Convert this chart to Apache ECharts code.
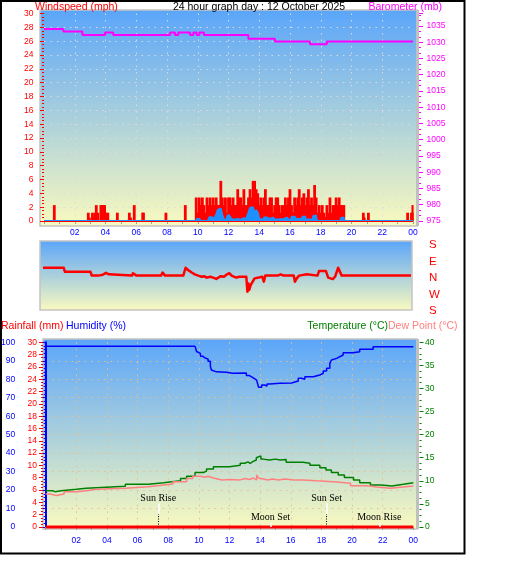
<!DOCTYPE html>
<html><head><meta charset="utf-8">
<script src="https://cdn.jsdelivr.net/npm/echarts@6/dist/echarts.min.js"></script>
<style>html,body{margin:0;padding:0;background:#fff}#c{width:529px;height:563px}</style>
</head><body><div id="c"></div>
<script>
// ---------- data (hours 0..24) ----------
const hourLabels = ['', '02', '04', '06', '08', '10', '12', '14', '16', '18', '20', '22', '00'];
const dirTickLabels = ['S', 'W', 'N', 'E', 'S']; // -180, -90, 0, 90, 180

// wind gust (mph) [hour, value]
const windGust = [
  [0.67,2.3],[2.88,1.2],[2.95,0.5],[3.15,1.2],[3.22,0.6],[3.32,1.2],[3.4,2.3],[3.5,1.2],[3.7,2.3],[3.78,2.3],[3.86,2.3],[3.94,2.3],[4.02,1.2],[4.15,1.2],
  [4.77,1.2],[5.55,1.2],[5.64,0.5],[5.87,2.3],[6.42,1.2],[6.47,1.2],[7.93,1.2],[9.19,2.3],
  [9.9,3.4],[10.0,1.2],[10.1,3.4],[10.2,2.3],[10.3,3.4],[10.4,2.3],[10.5,1.2],[10.6,3.4],[10.7,2.3],[10.8,3.4],[10.9,2.3],
  [11.0,3.4],[11.1,2.3],[11.2,3.4],[11.3,2.3],[11.4,2.3],[11.5,5.8],[11.6,3.4],[11.7,2.3],[11.8,3.4],[11.9,1.2],
  [12.0,3.4],[12.1,3.4],[12.2,2.3],[12.3,3.4],[12.4,2.3],[12.5,2.3],[12.6,4.6],[12.7,3.4],[12.8,3.4],[12.9,2.3],
  [13.0,4.6],[13.1,2.3],[13.2,2.3],[13.3,3.4],[13.4,4.6],[13.5,3.4],[13.6,5.8],[13.7,5.8],[13.8,4.6],[13.9,4.0],
  [14.0,2.3],[14.1,3.4],[14.2,2.3],[14.3,3.4],[14.4,4.6],[14.5,2.3],[14.6,2.3],[14.7,3.4],[14.8,3.4],[14.9,1.2],
  [15.0,2.3],[15.1,3.4],[15.2,3.4],[15.3,2.3],[15.4,1.2],[15.5,2.3],[15.6,2.3],[15.7,3.4],[15.8,2.3],[15.9,3.4],
  [16.0,4.6],[16.1,2.3],[16.2,1.2],[16.3,3.4],[16.4,2.3],[16.5,3.4],[16.6,4.6],[16.7,2.3],[16.8,3.4],[16.9,4.0],
  [17.0,2.3],[17.1,3.4],[17.2,4.6],[17.3,2.3],[17.4,3.4],[17.5,2.3],[17.6,5.2],[17.7,3.4],[17.8,1.2],[17.9,2.3],
  [18.0,1.2],[18.1,2.3],[18.2,1.2],[18.3,0.6],[18.4,2.3],[18.5,1.2],[18.6,3.4],[18.7,1.2],[18.8,2.3],[18.9,2.3],
  [19.0,3.4],[19.1,2.3],[19.2,3.4],[19.3,2.3],[19.4,2.3],[19.5,2.3],
  [20.77,1.2],[20.83,0.5],[21.1,1.2],[23.65,1.2],[23.9,1.2],[23.95,1.2],[23.99,2.3]
];
// average wind (mph)
const windAvg = [
  [0,0],[9.9,0],[9.95,0.3],[10.1,0.2],[10.2,0],[10.7,0.3],[10.8,0.6],[10.9,0.4],[11.1,0.2],[11.2,0.9],[11.3,1.6],[11.4,1.8],[11.5,1.7],
  [11.6,0.8],[11.7,0.2],[11.9,0.6],[12.0,0.9],[12.1,0.6],[12.2,0.2],[12.4,0.3],[12.6,0.2],[12.8,0.4],[13.0,0.3],[13.2,0.6],[13.3,1.2],
  [13.4,1.9],[13.5,2.0],[13.6,1.8],[13.7,0.9],[13.8,1.6],[13.9,1.2],[14.0,0.3],[14.1,0.2],[14.3,0.5],[14.5,0.3],[14.7,0.5],[14.9,0.5],
  [15.0,0.2],[15.2,0.3],[15.6,0.5],[15.8,0.6],[15.9,0.2],[16.1,0.6],[16.3,0.7],[16.4,0.3],[16.8,0.6],[16.9,0.6],[17.0,0.2],[17.5,0.7],
  [17.6,0.8],[17.7,0.4],[17.8,0],[19.3,0.4],[19.4,0.5],[19.5,0],[24,0]
];
// barometer (mb)
const barometer = [
  [0,1034.1],[1.26,1033.3],[2.5,1032.2],[3.97,1033.0],[4.5,1032.2],[8.2,1033.0],[8.52,1032.2],[8.74,1033.0],[9.5,1032.2],
  [9.71,1033.0],[9.93,1032.2],[10.1,1033.0],[10.4,1032.2],[13.29,1031.1],[15.02,1030.2],[17.3,1029.4],[18.39,1030.2],[24,1030.2]
];
// wind direction (degrees)
const windDir = [
  [0,56],[1.35,56],[1.43,34],[3.1,34],[3.18,13],[3.4,13],[3.5,20],[3.6,13],[3.9,18],[4.1,28],[4.2,34],[4.3,20],[4.37,13],
  [5.8,13],[5.87,26],[5.95,20],[6.1,13],[7.7,13],[7.8,30],[7.85,34],[7.96,13],[9.15,13],[9.3,56],[9.47,43],[9.7,30],[9.9,20],
  [10.13,13],[10.35,7],[10.5,10],[10.68,2],[10.9,7],[11.1,2],[11.3,355],[11.4,2],[11.6,10],[11.8,7],[12.0,20],[12.15,26],
  [12.3,13],[12.6,2],[12.8,7],[13.0,7],[13.26,7],[13.33,285],[13.4,330],[13.45,295],[13.55,322],[13.66,313],[13.8,358],
  [13.9,7],[14.3,7],[14.4,340],[14.5,13],[15.3,13],[15.5,20],[15.7,13],[16.35,13],[16.43,340],[16.55,358],[16.7,13],
  [17.2,20],[17.3,13],[17.9,13],[18.0,38],[18.45,38],[18.6,2],[18.7,354],[18.9,354],[19.05,7],[19.25,56],[19.35,62],
  [19.48,13],[24,13]
];
// humidity (%)
const humidity = [
  [0,97.8],[9.75,97.8],[9.85,95],[9.95,94],[10.1,92.5],[10.25,91.5],[10.4,91],[10.6,89.7],[10.75,87],[10.82,85],[10.9,84],
  [11.15,83.8],[11.8,83.3],[12.2,83.4],[13.1,82],[13.3,81.3],[13.45,80.5],[13.6,79.5],[13.77,78.7],[13.9,75.6],[14.1,76.9],
  [14.3,76.3],[14.45,77.4],[14.64,77.8],[15.29,78.0],[16.05,79.0],[16.49,80.5],[16.7,80],[16.92,81.4],[17.47,82.3],[17.9,83.2],
  [18.12,84.5],[18.34,85.9],[18.55,88.6],[18.66,90.4],[18.77,91.3],[19.0,92.2],[19.2,93.1],[19.42,94.4],[20.07,94.9],
  [20.5,96.2],[21.38,97.6],[21.7,98.4],[21.81,97.6],[24,97.6]
];
// temperature (°C)
const temperature = [
  [0,7.86],[0.45,7.65],[0.6,7.86],[1.0,8.15],[2.0,8.37],[2.65,8.5],[3.3,8.8],[5.2,9.24],[6.7,9.6],[7.7,9.75],[8.1,10.0],
  [8.8,10.5],[9.2,11.0],[9.75,11.8],[10.3,12.1],[10.5,12.56],[10.95,13.06],[12.0,13.36],[12.7,13.8],[13.0,14.1],[13.2,13.8],
  [13.35,14.2],[13.55,14.5],[13.75,15.0],[13.86,15.4],[14.05,14.7],[14.2,14.5],[14.6,14.7],[15.0,14.5],[15.3,14.6],[15.7,14.0],
  [16.8,13.8],[17.25,13.36],[17.9,12.85],[18.3,12.34],[18.65,11.8],[19.1,11.26],[19.5,10.7],[20.1,10.2],[20.5,9.6],[21.2,9.1],
  [21.9,8.88],[22.6,9.24],[23.35,9.6],[24,9.6]
];
// dew point (°C)
const dewPoint = [
  [0,7.15],[0.3,6.8],[0.7,7.15],[1.2,7.65],[2.0,7.86],[2.65,8.15],[3.3,8.37],[5.2,8.73],[6.7,9.1],[7.7,9.3],[8.3,9.8],[9.2,10.5],
  [9.6,11.0],[10.1,10.76],[10.4,11.0],[10.6,10.6],[10.95,10.2],[11.5,10.3],[12.0,10.2],[12.7,10.5],[13.0,10.3],[13.3,10.6],
  [13.55,10.2],[13.77,11.26],[13.9,10.6],[14.0,10.2],[14.5,10.4],[14.8,10.2],[15.2,10.4],[15.6,10.2],[16.2,10.2],[16.5,10.5],
  [16.6,10.2],[16.8,10.0],[17.7,9.75],[19.0,9.46],[19.9,8.95],[21.0,8.66],[21.6,8.37],[22.5,8.66],[23.35,8.88],[24,8.88]
];
// rainfall (mm)
const rainfall = [[0,0],[6,0],[12,0],[18,0],[24,0]];
// sun / moon events (hour)
const astroEvents = [
  { name: 'Sun Rise', t: 7.35, kind: 'sun' },
  { name: 'Moon Set', t: 14.68, kind: 'moon' },
  { name: 'Sun Set', t: 18.34, kind: 'sun' },
  { name: 'Moon Rise', t: 21.78, kind: 'moon' }
];

// ---------- chart ----------
const FONT = 'Liberation Sans, Arial, sans-serif';
const bgGrad = () => ({ type: 'linear', x: 0, y: 0, x2: 0, y2: 1,
  colorStops: [{ offset: 0, color: '#5aa5fa' }, { offset: 1, color: '#fafabe' }] });
const dots = (c) => ({ show: true, showMinLine: false, showMaxLine: false, lineStyle: { color: c, width: 1, type: [1.5, 5] } });

function hourAxis(gridIndex, offset, margin, showSplit, splitColor) {
  return {
    type: 'value', gridIndex, min: 0, max: 24, interval: 2, position: 'bottom', offset,
    axisLine: { show: false },
    axisTick: { show: true, length: 3, lineStyle: { color: '#a0a0a0', width: 1 } },
    minorTick: { show: true, splitNumber: 2, length: 3, lineStyle: { color: '#a0a0a0', width: 1 } },
    axisLabel: { show: true, margin, color: '#0000ff', fontSize: 8.5, fontFamily: FONT,
      formatter: v => hourLabels[Math.round(v / 2)] },
    splitLine: showSplit ? dots(splitColor) : { show: false },
    minorSplitLine: { show: false }
  };
}
function valAxis(o) {
  return Object.assign({
    type: 'value',
    axisLine: { show: false },
    axisTick: { show: true, length: 4, inside: false, lineStyle: { color: o.color, width: 1 } },
    minorTick: { show: true, splitNumber: o.minor, length: 2, lineStyle: { color: o.color, width: 1 } },
    axisLabel: { show: true, margin: o.margin, color: o.color, fontSize: 8.5, fontFamily: FONT,
      formatter: v => (Math.abs(v - Math.round(v / o.step) * o.step) < 1e-6 ? String(Math.round(v)) : '') },
    splitLine: { show: false },
    minorSplitLine: { show: false }
  }, o.extra);
}

const markSegments = [];
astroEvents.forEach(e => {
  if (e.kind === 'sun') {
    markSegments.push([{ coord: [e.t, 0], lineStyle: { color: '#000', width: 1, type: [1, 1.5] }, label: { show: false } },
                       { coord: [e.t, 2.11] }]);
    markSegments.push([{ coord: [e.t, 2.11], lineStyle: { color: '#fff', width: 1.5, type: 'solid' },
                         label: { show: true, position: 'end', distance: 0, formatter: e.name } },
                       { coord: [e.t, 3.85] }]);
  } else {
    markSegments.push([{ coord: [e.t, 0], lineStyle: { color: '#fff', width: 1.5, type: 'solid' },
                         label: { show: true, position: 'end', distance: 1, formatter: e.name } },
                       { coord: [e.t, 0.65] }]);
  }
});

const txt = (text, x, y, color, align) => ({ type: 'text', z: 70,
  style: { text, x, y, fill: color, fontSize: 10.5, fontFamily: FONT, align: align || 'left', verticalAlign: 'middle' } });

const option = {
  animation: false,
  backgroundColor: '#ffffff',
  grid: [
    { left: 44, top: 13.5, width: 369, height: 207.5, outerBoundsMode: 'none', containLabel: false },
    { left: 43, top: 245, width: 368, height: 66, outerBoundsMode: 'none', containLabel: false },
    { left: 45.7, top: 342.3, width: 367.6, height: 184.7, outerBoundsMode: 'none', containLabel: false }
  ],
  graphic: [
    { type: 'rect', z: -10, shape: { x: 40, y: 10, width: 377, height: 216 }, style: { fill: bgGrad(), stroke: '#c4c4c4', lineWidth: 1.5 } },
    { type: 'rect', z: -9, shape: { x: 416, y: 10, width: 3, height: 216 }, style: { fill: '#c0c0c0' } },
    { type: 'rect', z: -10, shape: { x: 40, y: 241, width: 372, height: 69 }, style: { fill: bgGrad(), stroke: '#c4c4c4', lineWidth: 1.5 } },
    { type: 'rect', z: -10, shape: { x: 43, y: 339, width: 374, height: 190 }, style: { fill: bgGrad(), stroke: '#c4c4c4', lineWidth: 1.5 } },
    { type: 'rect', z: -9, shape: { x: 416, y: 339, width: 3, height: 190 }, style: { fill: '#c0c0c0' } },
    { type: 'rect', z: 60, shape: { x: 1, y: 1, width: 463.5, height: 552.5 }, style: { fill: 'none', stroke: '#000', lineWidth: 2 } },
    txt('Windspeed (mph)', 35, 7, '#ff0000'),
    txt('24 hour graph day : 12 October 2025', 259, 7, '#000000', 'center'),
    txt('Barometer (mb)', 442, 7, '#ff00ff', 'right'),
    txt('Rainfall (mm)', 1, 326.5, '#ff0000'),
    txt('Humidity (%)', 66, 326.5, '#0000ff'),
    txt('Temperature (°C)', 388, 326.5, '#008000', 'right'),
    txt('Dew Point (°C)', 388, 326.5, '#ff8080')
  ],
  xAxis: [
    hourAxis(0, 4, 3.5, true, 'rgba(220,220,220,0.95)'),
    { type: 'value', gridIndex: 1, min: 0, max: 24, show: false },
    hourAxis(2, 2, 7, true, '#e6bf8f')
  ],
  yAxis: [
    valAxis({ color: '#ff0000', minor: 4, step: 2, margin: 5.5, extra: { gridIndex: 0, min: 0, max: 30, interval: 2, position: 'left', offset: 5,
      splitLine: dots('rgba(220,220,220,0.95)') } }),
    valAxis({ color: '#ff00ff', minor: 3, step: 5, margin: 7.5, extra: { gridIndex: 0, min: 975, max: 1038.846, interval: 5, position: 'right', offset: 6 } }),
    { type: 'value', gridIndex: 1, min: -180, max: 180, interval: 90, position: 'right', offset: 14,
      axisLine: { show: false }, axisTick: { show: false }, splitLine: { show: false },
      axisLabel: { show: true, margin: 4, color: '#ff0000', fontSize: 11.5, fontFamily: FONT,
        formatter: v => dirTickLabels[Math.round((v + 180) / 90)] } },
    valAxis({ color: '#0000ff', minor: 5, step: 10, margin: 6.5, extra: { gridIndex: 2, min: 0, max: 100, interval: 10, position: 'left', offset: 24,
      axisLine: { show: true, lineStyle: { color: '#0000ff', width: 2 } },
      splitLine: dots('#e6bf8f') } }),
    valAxis({ color: '#ff0000', minor: 4, step: 2, margin: 6, extra: { gridIndex: 2, min: 0, max: 30, interval: 2, position: 'left', offset: 2.7 } }),
    valAxis({ color: '#008000', minor: 4, step: 5, margin: 5.5, extra: { gridIndex: 2, min: 0, max: 40, interval: 5, position: 'right', offset: 6.2 } })
  ],
  series: [
    { type: 'bar', name: 'gust', xAxisIndex: 0, yAxisIndex: 0, data: windGust, barWidth: 2.8, z: 2, silent: true,
      itemStyle: { color: '#ff0000' },
      markLine: { silent: true, symbol: ['none', 'none'], label: { show: false }, z: 6,
        lineStyle: { color: '#ff0000', width: 1, type: 'solid' }, data: [{ yAxis: 0 }] } },
    { type: 'line', name: 'avg', xAxisIndex: 0, yAxisIndex: 0, data: windAvg, step: 'end', symbol: 'none', z: 3, silent: true,
      lineStyle: { color: '#1e90ff', width: 2 }, areaStyle: { color: '#1e90ff', opacity: 1 } },
    { type: 'line', name: 'baro', xAxisIndex: 0, yAxisIndex: 1, data: barometer, step: 'end', symbol: 'none', z: 4, silent: true,
      lineStyle: { color: '#ff00ff', width: 2 } },
    { type: 'line', name: 'dir', xAxisIndex: 1, yAxisIndex: 2, symbol: 'none', z: 4, silent: true,
      data: windDir.map(([t, d]) => [t, d > 180 ? d - 360 : d]),
      lineStyle: { color: '#ff0000', width: 2.5, join: 'round' } },
    { type: 'line', name: 'hum', xAxisIndex: 2, yAxisIndex: 3, data: humidity, step: 'end', symbol: 'none', z: 4, silent: true,
      lineStyle: { color: '#0000ff', width: 1.5 } },
    { type: 'line', name: 'temp', xAxisIndex: 2, yAxisIndex: 5, data: temperature, step: 'end', symbol: 'none', z: 4, silent: true,
      lineStyle: { color: '#008000', width: 1.5 } },
    { type: 'line', name: 'dew', xAxisIndex: 2, yAxisIndex: 5, data: dewPoint, step: 'end', symbol: 'none', z: 4, silent: true,
      lineStyle: { color: '#ff8080', width: 1.5 } },
    { type: 'line', name: 'rain', xAxisIndex: 2, yAxisIndex: 4, data: rainfall, symbol: 'none', z: 5, silent: true, clip: false,
      lineStyle: { color: '#ff0000', width: 3 },
      markLine: { silent: true, symbol: ['none', 'none'], z: 7,
        label: { color: '#000', fontFamily: 'Liberation Serif, Times New Roman, serif', fontSize: 10 },
        data: markSegments } }
  ]
};
const chart = echarts.init(document.getElementById('c'));
chart.setOption(option);
</script>
</body></html>
